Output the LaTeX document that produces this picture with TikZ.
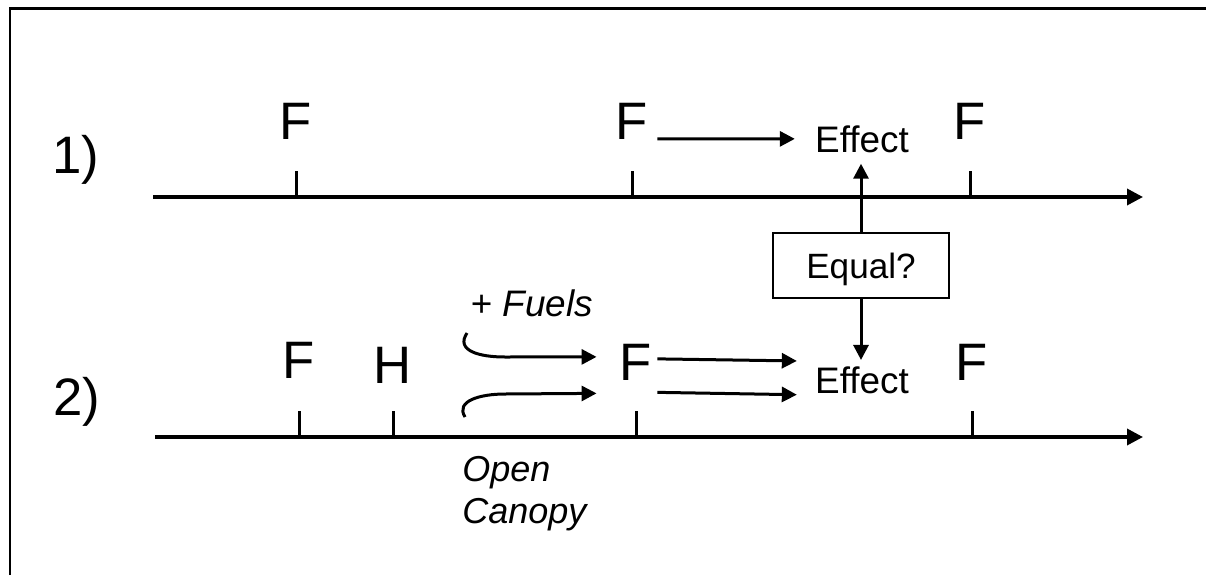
\documentclass[tikz,border=0pt]{standalone}
\usepackage{fontspec}
\setmainfont{Liberation Sans}
\usetikzlibrary{arrows.meta,calc}

\tikzset{
  lbl/.style={inner sep=0pt,anchor=base,font=\fontsize{30}{36}\selectfont},
  eff/.style={inner sep=0pt,anchor=base,font=\fontsize{21}{25}\selectfont},
  axe/.style={line width=0.07cm,-{Triangle[length=0.32cm,width=0.32cm]}},
  tck/.style={line width=0.06cm},
  arr/.style={line width=0.06cm,-{Triangle[length=0.3cm,width=0.3cm]}}
}

\begin{document}
\begin{tikzpicture}[x=0.02cm,y=-0.02cm]
  \useasboundingbox (0,0) rectangle (1206,575);
  \draw[line width=0.06cm] (10,575) -- (10,8.5) -- (1206,8.5);
  % first time line
  \node[lbl] (one) at (76,173) {1)};
  \coordinate (s1) at (153,197);
  \coordinate (e1) at (1143,197);
  \draw[axe] (s1) -- (e1);
  \node[lbl] (fa) at (296,139) {F};
  \node[lbl] (fb) at (632,139) {F};
  \node[lbl] (fc) at (970,139) {F};
  \node[eff] (effa) at (862,152) {Effect};
  \foreach \n in {fa,fb,fc} \draw[tck] (\n |- s1) -- ++(0,-26);
  \draw[arr,shorten <=0.18cm,shorten >=0.4cm] (fb.base east) -- (effa.west);
  % equal box
  \node[draw,line width=0.04cm,minimum width=3.52cm,minimum height=1.3cm,text depth=0pt,
        font=\fontsize{20}{24}\selectfont] (eq) at (861,265.5) {Equal?};
  \draw[arr,shorten >=0.22cm] (eq.north) -- (eq.north |- effa.south);
  % second time line
  \node[lbl] (two) at (77,415) {2)};
  \coordinate (s2) at (155,437);
  \coordinate (e2) at (1143,437);
  \draw[axe] (s2) -- (e2);
  \node[lbl] (fd) at (299,378) {F};
  \node[lbl] (hh) at (393,383) {H};
  \node[lbl] (fe) at (636,380) {F};
  \node[lbl] (ff) at (972,380) {F};
  \node[eff] (effb) at (862,393) {Effect};
  \foreach \n in {fd,hh,fe,ff} \draw[tck] (\n |- s2) -- ++(0,-26);
  \draw[arr,shorten >=0.12cm] (eq.south) -- (eq.south |- effb.north);
  \draw[arr] ($(fe.east)+(5,-3)$) -- ($(effb.north west)+(-18,-5)$);
  \draw[arr] ($(fe.south east)+(5,12)$) -- ($(effb.south west)+(-18,1)$);
  % fuels and canopy
  \node[eff] (fuel) at (532,316) {+ \textit{Fuels}};
  \node[inner sep=0pt,anchor=north west,align=left,font=\fontsize{20.5}{24}\selectfont\itshape]
       (canopy) at (462,456) {Open\\Canopy};
  \coordinate (cu) at (467,333);
  \coordinate (cl) at (465,417);
  \draw[arr] (cu) .. controls +(-12,18) and +(-25,0) .. ++(38,24) -- ($(fe.west)+(-23,-5)$);
  \draw[arr] (cl) .. controls +(-10,-16) and +(-25,0) .. ++(40,-23) -- ($(fe.south west)+(-23,13)$);
\end{tikzpicture}
\end{document}
